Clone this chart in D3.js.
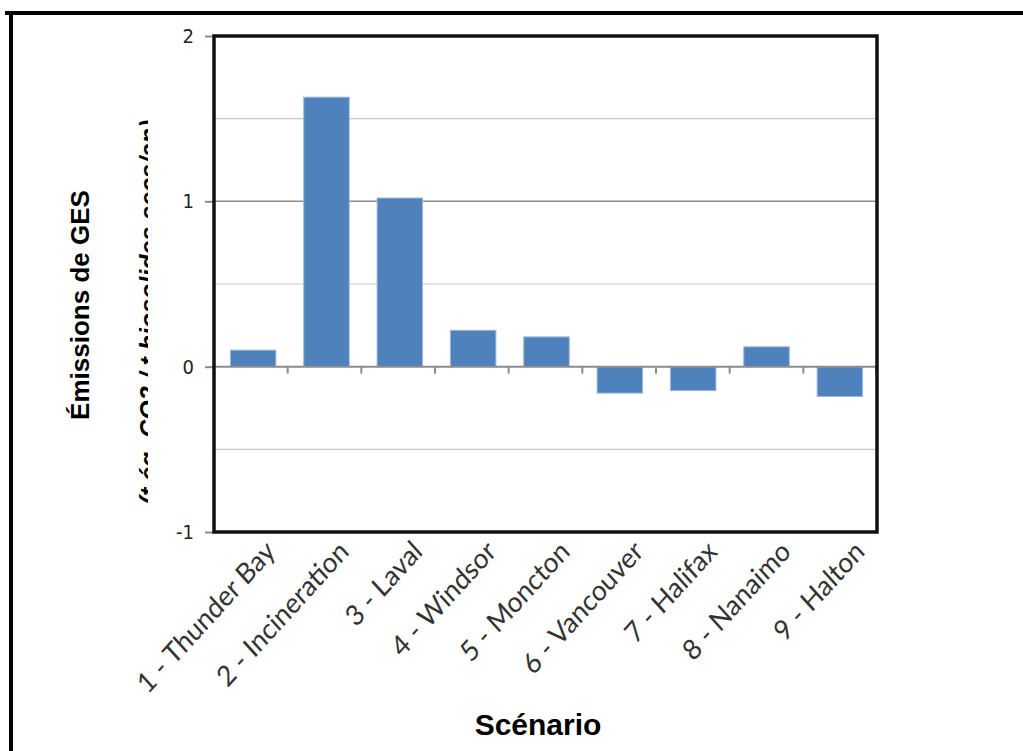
<!DOCTYPE html>
<html>
<head>
<meta charset="utf-8">
<script src="https://cdn.jsdelivr.net/npm/d3@7"></script>
<style>
body { margin: 0; background: #fff; }
svg { display: block; }
</style>
</head>
<body>
<div id="chart"></div>
<script>
// chart data
var scenarios = ["1 - Thunder Bay", "2 - Incineration", "3 - Laval", "4 - Windsor", "5 - Moncton",
                 "6 - Vancouver", "7 - Halifax", "8 - Nanaimo", "9 - Halton"];
var emissions = [0.10, 1.63, 1.02, 0.22, 0.18, -0.16, -0.145, 0.12, -0.18];
var yTicks = [-1, 0, 1, 2];
var yGrid = [-0.5, 0.5, 1.5];

var svgWidth = 1023, svgHeight = 751;
var margin = {top: 36, right: 146, bottom: 219, left: 214};
var width = svgWidth - margin.left - margin.right;
var height = svgHeight - margin.top - margin.bottom;

var svg = d3.select("#chart").append("svg")
    .attr("width", svgWidth)
    .attr("height", svgHeight);

// outer frame (only top and left visible)
svg.append("line").attr("x1", 5).attr("x2", svgWidth).attr("y1", 13).attr("y2", 13)
    .attr("stroke", "#000").attr("stroke-width", 4);
svg.append("line").attr("x1", 11).attr("x2", 11).attr("y1", 11).attr("y2", svgHeight)
    .attr("stroke", "#000").attr("stroke-width", 4);

var chart = svg.append("g")
    .attr("transform", "translate(" + margin.left + "," + margin.top + ")");

var x = d3.scaleBand().domain(scenarios).range([0, width]).paddingInner(0.38).paddingOuter(0.21);
var xTicks = d3.scaleBand().domain(scenarios).range([0, width]);
var y = d3.scaleLinear().domain([-1, 2]).range([height, 0]);

// gridlines
chart.selectAll(".minor").data(yGrid).enter().append("line")
    .attr("x1", 0).attr("x2", width)
    .attr("y1", d => y(d)).attr("y2", d => y(d))
    .attr("stroke", "#c8c8c8").attr("stroke-width", 1.2);
chart.selectAll(".major").data([1]).enter().append("line")
    .attr("x1", 0).attr("x2", width)
    .attr("y1", d => y(d)).attr("y2", d => y(d))
    .attr("stroke", "#8c8c8c").attr("stroke-width", 1.5);

// bars
chart.selectAll(".bar").data(emissions).enter().append("rect")
    .attr("x", (d, i) => x(scenarios[i]) + 1)
    .attr("width", x.bandwidth())
    .attr("y", d => y(Math.max(0, d)))
    .attr("height", d => Math.abs(y(d) - y(0)))
    .attr("fill", "#4f81bd")
    .attr("stroke", "#9db7dc")
    .attr("stroke-width", 1);

// zero axis line with category ticks
chart.append("line").attr("x1", 0).attr("x2", width).attr("y1", y(0)).attr("y2", y(0))
    .attr("stroke", "#8c8c8c").attr("stroke-width", 2);
chart.selectAll(".xtick").data(scenarios.slice(1).concat(["end"])).enter().append("line")
    .attr("x1", d => d === "end" ? width - 1 : xTicks(d))
    .attr("x2", d => d === "end" ? width - 1 : xTicks(d))
    .attr("y1", y(0)).attr("y2", y(0) + 7)
    .attr("stroke", "#8c8c8c").attr("stroke-width", 2);

// y axis
var leftAxis = d3.axisLeft(y).tickValues(yTicks).tickSize(9).tickPadding(11)
    .tickFormat(d => String(d));
var yAxis = chart.append("g").call(leftAxis);
yAxis.select(".domain").remove();
yAxis.selectAll(".tick line").attr("stroke", "#8c8c8c").attr("stroke-width", 2);
yAxis.selectAll(".tick text")
    .attr("font-family", "DejaVu Sans Condensed, DejaVu Sans, sans-serif")
    .attr("font-size", "20px")
    .attr("fill", "#222");

// plot frame
chart.append("rect").attr("x", 0).attr("y", 0).attr("width", width).attr("height", height)
    .attr("fill", "none").attr("stroke", "#111").attr("stroke-width", 3.5);

// category labels (slightly steeper than 45deg, like the source)
chart.selectAll(".xlabel").data(scenarios).enter().append("text")
    .attr("transform", d => "translate(" + (xTicks(d) + xTicks.bandwidth() / 2 + 12) + "," + (height + 6) + ") scale(1,1.1) rotate(-45)")
    .attr("text-anchor", "end")
    .attr("dy", "0.75em")
    .attr("font-family", "Lato, Open Sans, sans-serif")
    .attr("font-size", "26px")
    .attr("fill", "#333")
    .text(d => d);

// x axis title
svg.append("text")
    .attr("x", 538).attr("y", 735)
    .attr("text-anchor", "middle")
    .attr("font-family", "Liberation Sans, Arial, sans-serif")
    .attr("font-weight", "bold")
    .attr("font-size", "30px")
    .attr("fill", "#000")
    .text("Scénario");

// y axis title
svg.append("text")
    .attr("transform", "translate(89,305) rotate(-90)")
    .attr("text-anchor", "middle")
    .attr("font-family", "Liberation Sans, Arial, sans-serif")
    .attr("font-weight", "bold")
    .attr("font-size", "26px")
    .attr("fill", "#000")
    .text("Émissions de GES");

// second y title line, cut off by the plot area
svg.append("clipPath").attr("id", "unitClip")
    .append("rect").attr("x", 0).attr("y", 0).attr("width", 148).attr("height", svgHeight);
svg.append("g")
    .attr("clip-path", "url(#unitClip)")
    .append("text")
    .attr("transform", "translate(158,312) rotate(-90)")
    .attr("text-anchor", "middle")
    .attr("font-family", "Liberation Sans, Arial, sans-serif")
    .attr("font-weight", "bold")
    .attr("font-style", "italic")
    .attr("font-size", "25px")
    .attr("fill", "#000")
    .text("(t éq. CO2 / t biosolides secs/an)");
</script>
</body>
</html>
